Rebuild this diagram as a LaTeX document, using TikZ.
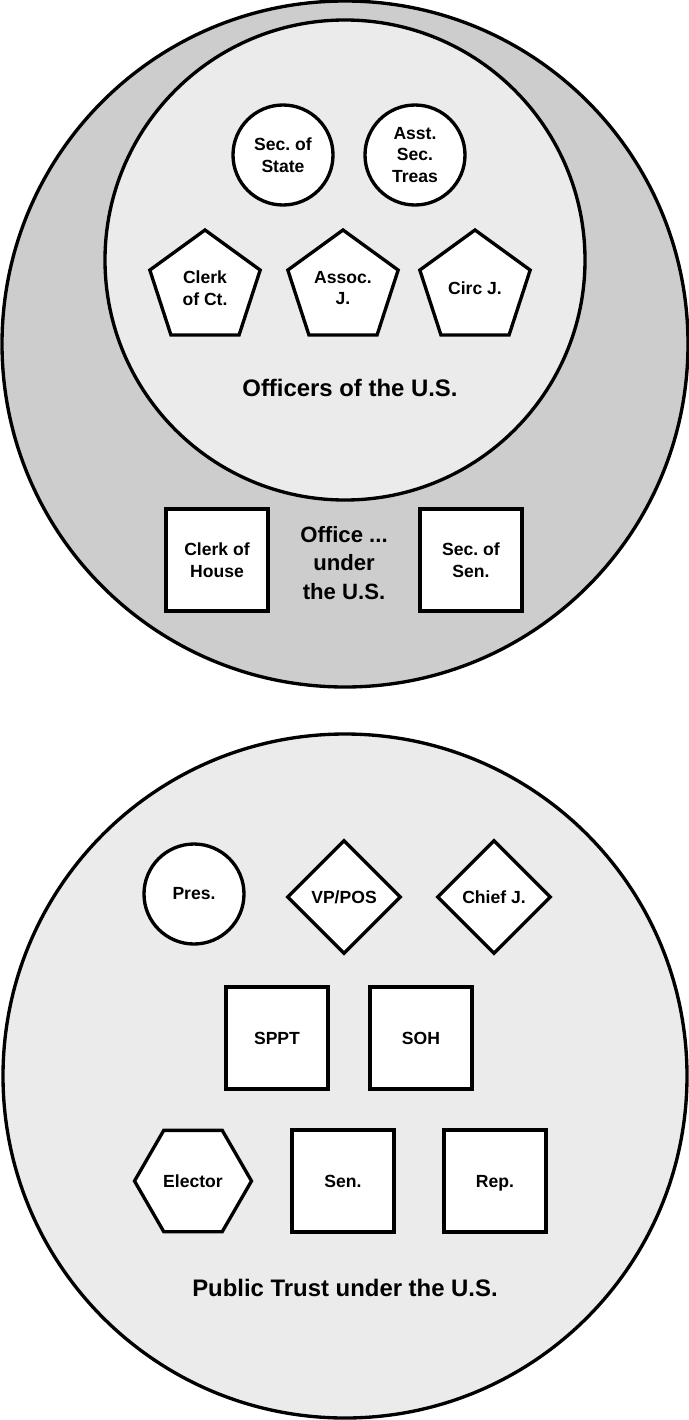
\documentclass[tikz,border=0pt]{standalone}
\usepackage{fontspec}
\setmainfont{Liberation Sans}
\usetikzlibrary{shapes.geometric}

\definecolor{ringgray}{HTML}{CDCDCD}
\definecolor{palegray}{HTML}{EBEBEB}

\frenchspacing

\begin{document}
\begin{tikzpicture}[
    every node/.style={font=\bfseries\fontsize{10}{12.3}\selectfont, align=center},
    ring/.style={draw, circle, line width=1.9pt, inner sep=0pt},
    office/.style={draw, line width=1.9pt, fill=white, inner sep=0pt},
    roundbox/.style={office, circle, minimum size=2cm},
    squarebox/.style={office, rectangle, minimum size=2.04cm},
    pentabox/.style={office, regular polygon, regular polygon sides=5, minimum size=2.32cm},
    hexbox/.style={office, regular polygon, regular polygon sides=6, minimum size=2.34cm},
    diabox/.style={office, diamond, minimum size=2.28cm},
    biglabel/.style={font=\bfseries\fontsize{13.6}{16}\selectfont}
]
    \useasboundingbox (0, 0) rectangle (13.78, -28.4);

    % office ... under the U.S. (outer ring)
    \node[ring, fill=ringgray, minimum size=13.72cm] (officering) at (6.9, -6.88) {};
    % officers of the U.S. (inner ring)
    \node[ring, fill=palegray, minimum size=9.6cm] (officersring) at (6.9, -5.2) {};

    \node[roundbox] (secstate) at (5.66, -3.1) {Sec. of\\State};
    \node[roundbox] (asstsec) at (8.3, -3.1) {Asst.\\Sec.\\Treas};

    \node[pentabox] (clerkct) at (4.1, -5.76) {Clerk\\of Ct.};
    \node[pentabox] (assocj) at (6.86, -5.76) {Assoc.\\J.};
    \node[pentabox] (circj) at (9.5, -5.76) {Circ J.};

    \node[biglabel] (officerslabel) at (7.0, -7.76) {Officers of the U.S.};

    \node[squarebox] (clerkhouse) at (4.34, -11.2) {Clerk of\\House};
    \node[squarebox] (secsen) at (9.42, -11.2) {Sec. of\\Sen.};
    \node[font=\bfseries\fontsize{12.6}{16}\selectfont] (officelabel) at (6.88, -11.26)
        {Office ...\\under\\the U.S.};

    % public trust under the U.S.
    \node[ring, fill=palegray, minimum size=13.68cm] (trustring) at (6.9, -21.52) {};

    \node[roundbox] (pres) at (3.88, -17.88) {Pres.};
    \node[diabox] (vppos) at (6.88, -17.94) {VP/POS};
    \node[diabox] (chiefj) at (9.88, -17.94) {Chief J.};

    \node[squarebox] (sppt) at (5.54, -20.76) {SPPT};
    \node[squarebox] (soh) at (8.42, -20.76) {SOH};

    \node[hexbox] (elector) at (3.86, -23.62) {Elector};
    \node[squarebox] (sen) at (6.86, -23.62) {Sen.};
    \node[squarebox, text depth=0pt] (rep) at (9.9, -23.62) {Rep.};

    \node[biglabel] (trustlabel) at (6.9, -25.76) {Public Trust under the U.S.};
\end{tikzpicture}
\end{document}
